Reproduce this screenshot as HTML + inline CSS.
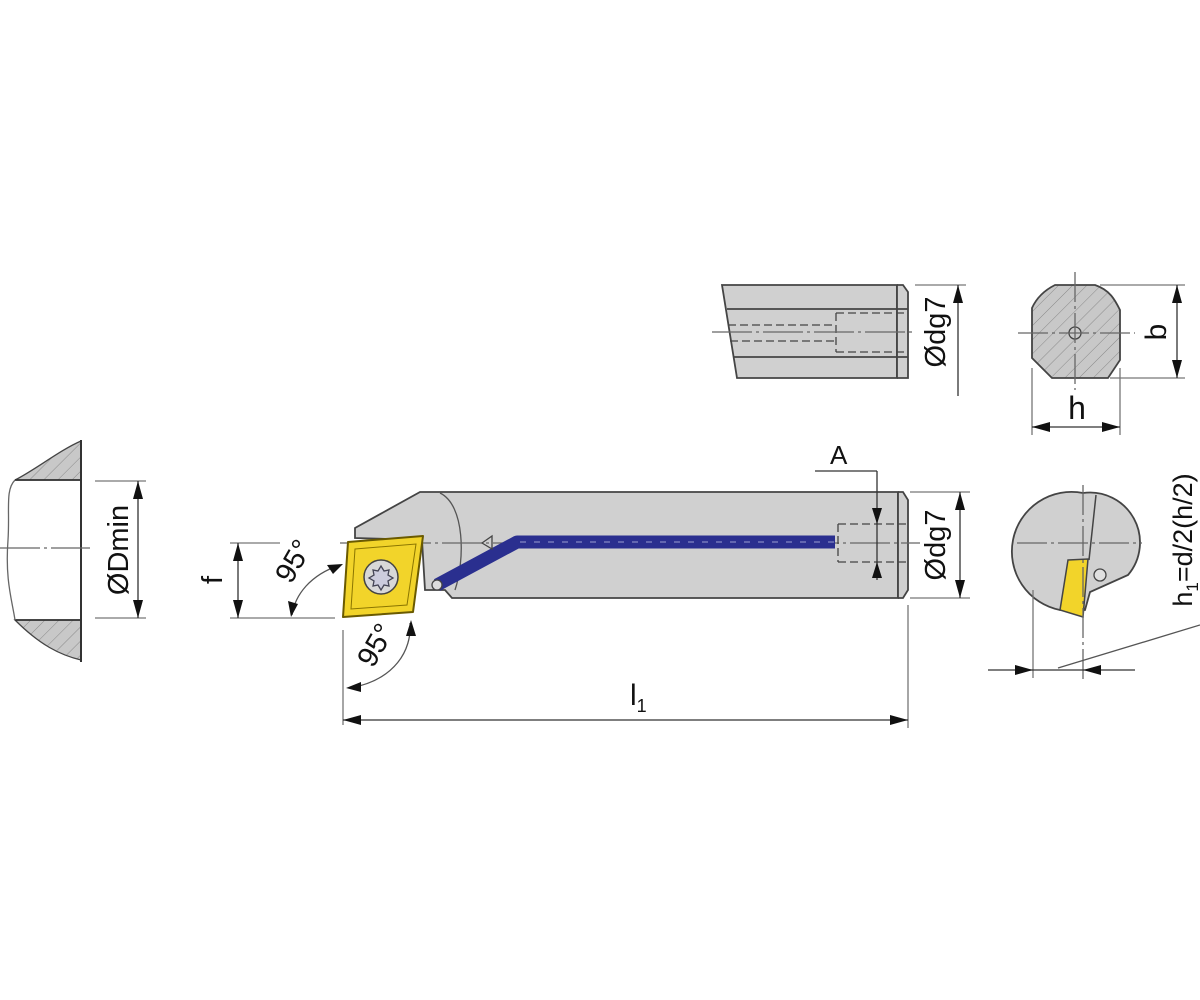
<!DOCTYPE html>
<html><head><meta charset="utf-8"><style>
html,body{margin:0;padding:0;background:#fff;}
svg{display:block;}
text{font-family:"Liberation Sans",sans-serif;fill:#111;}
</style></head><body>
<svg width="1200" height="1000" viewBox="0 0 1200 1000" xmlns="http://www.w3.org/2000/svg">
<defs>
<pattern id="hatch" patternUnits="userSpaceOnUse" width="10" height="10" patternTransform="rotate(45)">
<rect width="10" height="10" fill="#c8c8c8"/><line x1="0" y1="0" x2="0" y2="10" stroke="#8a8a8a" stroke-width="1"/>
</pattern>
</defs>
<g stroke="#333" fill="none" stroke-width="1.3">
<!-- left workpiece -->
<path d="M81,441 C60,450 35,470 15,480 L81,480 Z" fill="url(#hatch)" stroke="#444"/>
<path d="M15,620 L81,620 L81,660 C60,655 40,645 15,620 Z" fill="url(#hatch)" stroke="#444"/>
<line x1="81" y1="440" x2="81" y2="662" stroke-width="2"/>
<line x1="15" y1="480" x2="81" y2="480" stroke-width="1.8"/>
<line x1="15" y1="620" x2="81" y2="620" stroke-width="1.8"/>
<path d="M15,480 C5,490 10,510 8,540 C5,580 12,600 15,620" stroke="#666"/>
<line x1="0" y1="548" x2="90" y2="548" stroke="#666" stroke-dasharray="40,4,3,4"/>
<line x1="95" y1="481" x2="146" y2="481" stroke="#777"/>
<line x1="95" y1="618" x2="146" y2="618" stroke="#777"/>
<line x1="138" y1="481" x2="138" y2="618"/>
<path d="M138,481 l-5,18 h10 Z M138,618 l-5,-18 h10 Z" fill="#111" stroke="none"/>
<text transform="translate(128,550) rotate(-90)" text-anchor="middle" font-size="29" stroke="none">ØDmin</text>

<!-- main tool body -->
<path d="M420,492 L898,492 L898,598 L452,598 L445,590 L425,590 L422,540 L355,538 L355,528 Z" fill="#d0d0d0" stroke="#444" stroke-width="1.8"/>
<path d="M440,493 C465,505 465,560 455,590" stroke="#555"/>
<path d="M898,492 L903,492 L908,500 L908,590 L903,598 L898,598" fill="#d0d0d0" stroke="#444" stroke-width="1.8"/>
<line x1="898" y1="492" x2="898" y2="598" stroke="#444" stroke-width="1.8"/>
<line x1="340" y1="543" x2="920" y2="543" stroke="#666" stroke-dasharray="40,4,3,4"/>
<path d="M437,585 L517,542 L835,542" stroke="#2a2f8f" stroke-width="13" stroke-linejoin="round"/>
<path d="M520,542 L835,542" stroke="#e8e8ff" stroke-width="1" stroke-dasharray="6,8" opacity="0.6"/>
<circle cx="437" cy="585" r="5" fill="#ddd" stroke="#444"/>
<path d="M482,543 L492,536 L492,549 Z" fill="none" stroke="#444"/>
<path d="M838,524 L908,524 M838,562 L908,562 M838,524 L838,562" stroke="#444" stroke-dasharray="8,4"/>
<line x1="815" y1="471" x2="877" y2="471"/>
<line x1="877" y1="471" x2="877" y2="580"/>
<path d="M877,524 l-5,-16 h10 Z M877,562 l-5,16 h10 Z" fill="#111" stroke="none"/>
<text x="830" y="464" font-size="26" stroke="none">A</text>
<line x1="910" y1="492" x2="970" y2="492" stroke="#777"/>
<line x1="910" y1="598" x2="970" y2="598" stroke="#777"/>
<line x1="960" y1="492" x2="960" y2="598"/>
<path d="M960,492 l-5,18 h10 Z M960,598 l-5,-18 h10 Z" fill="#111" stroke="none"/>
<text transform="translate(945,545) rotate(-90)" text-anchor="middle" font-size="29" stroke="none">Ødg7</text>

<!-- insert -->
<path d="M348,542 L423,536 L413,612 L343,617 Z" fill="#f2d42a" stroke="#6a5a00" stroke-width="2" stroke-linejoin="round"/>
<path d="M355,549 L416,544 L407,605 L351,609 Z" fill="none" stroke="#8a7500" stroke-width="1"/>
<circle cx="381" cy="577" r="17" fill="#d8d8d8" stroke="#444" stroke-width="1.5"/>
<path d="M381,566 l3,5 5,-1 -1,5 5,3 -5,3 1,5 -5,-1 -3,5 -3,-5 -5,1 1,-5 -5,-3 5,-3 -1,-5 5,1 Z" fill="#ccd" stroke="#445" />

<!-- f -->
<line x1="230" y1="543" x2="280" y2="543" stroke="#777"/>
<line x1="230" y1="618" x2="335" y2="618" stroke="#777"/>
<line x1="238" y1="543" x2="238" y2="618"/>
<path d="M238,543 l-5,18 h10 Z M238,618 l-5,-18 h10 Z" fill="#111" stroke="none"/>
<text transform="translate(222,580) rotate(-90)" text-anchor="middle" font-size="29" stroke="none">f</text>
<path d="M340,565 C310,575 295,595 292,615" stroke="#555"/>
<path d="M343,564 l-16,1 6,9 Z M291,617 l-3,-16 10,3 Z" fill="#111" stroke="none"/>
<text transform="translate(302,566) rotate(-60)" text-anchor="middle" font-size="29" stroke="none">95°</text>
<line x1="343" y1="630" x2="343" y2="725" stroke="#777"/>
<path d="M410,623 C412,650 395,680 350,688" stroke="#555"/>
<path d="M411,620 l-5,16 10,0 Z M346,688 l15,-6 0,10 Z" fill="#111" stroke="none"/>
<text transform="translate(384,650) rotate(-60)" text-anchor="middle" font-size="29" stroke="none">95°</text>

<!-- l1 -->
<line x1="908" y1="605" x2="908" y2="728" stroke="#777"/>
<line x1="343" y1="720" x2="908" y2="720"/>
<path d="M343,720 l18,-5 v10 Z M908,720 l-18,-5 v10 Z" fill="#111" stroke="none"/>
<text x="630" y="705" font-size="30" stroke="none">l<tspan font-size="18" dy="7">1</tspan></text>

<!-- top view -->
<path d="M722,285 L897,285 L897,378 L737,378 Z" fill="#d0d0d0" stroke="#444" stroke-width="1.8"/>
<path d="M897,285 L903,285 L908,292 L908,378 L897,378" fill="#d0d0d0" stroke="#444" stroke-width="1.8"/>
<line x1="897" y1="285" x2="897" y2="378" stroke="#444" stroke-width="1.8"/>
<line x1="727" y1="309" x2="908" y2="309" stroke="#444" stroke-width="1.8"/>
<line x1="734" y1="357" x2="908" y2="357" stroke="#444" stroke-width="1.8"/>
<path d="M728,325 L836,325 M730,341 L836,341 M836,313 L836,352 M836,313 L908,313 M836,352 L908,352" stroke="#444" stroke-dasharray="8,4"/>
<line x1="712" y1="332" x2="915" y2="332" stroke="#666" stroke-dasharray="40,4,3,4"/>
<line x1="915" y1="285" x2="966" y2="285" stroke="#777"/>
<line x1="958" y1="285" x2="958" y2="396"/>
<path d="M958,285 l-5,18 h10 Z" fill="#111" stroke="none"/>
<text transform="translate(945,332) rotate(-90)" text-anchor="middle" font-size="29" stroke="none">Ødg7</text>

<!-- end view top -->
<path d="M1055,285 L1095,285 C1110,290 1115,300 1120,310 L1120,360 L1108,378 L1052,378 L1032,358 L1032,308 C1037,297 1045,290 1055,285 Z" fill="url(#hatch)" stroke="#444" stroke-width="1.8"/>
<circle cx="1075" cy="333" r="6" fill="#ccc" stroke="#444"/>
<line x1="1075" y1="272" x2="1075" y2="390" stroke="#666" stroke-dasharray="30,4,3,4"/>
<line x1="1018" y1="333" x2="1135" y2="333" stroke="#666" stroke-dasharray="30,4,3,4"/>
<line x1="1100" y1="285" x2="1185" y2="285" stroke="#777"/>
<line x1="1110" y1="378" x2="1185" y2="378" stroke="#777"/>
<line x1="1177" y1="285" x2="1177" y2="378"/>
<path d="M1177,285 l-5,18 h10 Z M1177,378 l-5,-18 h10 Z" fill="#111" stroke="none"/>
<text transform="translate(1166,332) rotate(-90)" text-anchor="middle" font-size="30" stroke="none">b</text>
<line x1="1032" y1="368" x2="1032" y2="435" stroke="#777"/>
<line x1="1120" y1="368" x2="1120" y2="435" stroke="#777"/>
<line x1="1032" y1="427" x2="1120" y2="427"/>
<path d="M1032,427 l18,-5 v10 Z M1120,427 l-18,-5 v10 Z" fill="#111" stroke="none"/>
<text x="1077" y="419" text-anchor="middle" font-size="32" stroke="none">h</text>

<!-- end view bottom -->
<path d="M1083,493 A50,50 0 0 1 1128,575 L1090,592 L1085,610 L1060,610 A50,50 0 0 1 1083,493 Z" fill="#d0d0d0" stroke="#444" stroke-width="1.8"/>
<path d="M1068,560 L1088,559 L1083,617 L1060,610 Z" fill="#f2d42a" stroke="#444" stroke-width="1.5"/>
<line x1="1096" y1="495" x2="1089" y2="560" stroke="#444" stroke-width="1.5"/>
<circle cx="1100" cy="575" r="6" fill="#e0e0e0" stroke="#444"/>
<line x1="1083" y1="485" x2="1083" y2="680" stroke="#666" stroke-dasharray="30,4,3,4"/>
<line x1="1017" y1="543" x2="1142" y2="543" stroke="#666" stroke-dasharray="30,4,3,4"/>
<line x1="1033" y1="590" x2="1033" y2="678" stroke="#777"/>
<line x1="988" y1="670" x2="1135" y2="670"/>
<path d="M1033,670 l-18,-5 v10 Z M1083,670 l18,-5 v10 Z" fill="#111" stroke="none"/>
<path d="M1058,668 L1200,625" stroke="#555"/>
<text transform="translate(1192,540) rotate(-90)" text-anchor="middle" font-size="27" stroke="none">h<tspan font-size="17" dy="6">1</tspan><tspan dy="-6">=d/2(h/2)</tspan></text>
</g>
</svg>
</body></html>
